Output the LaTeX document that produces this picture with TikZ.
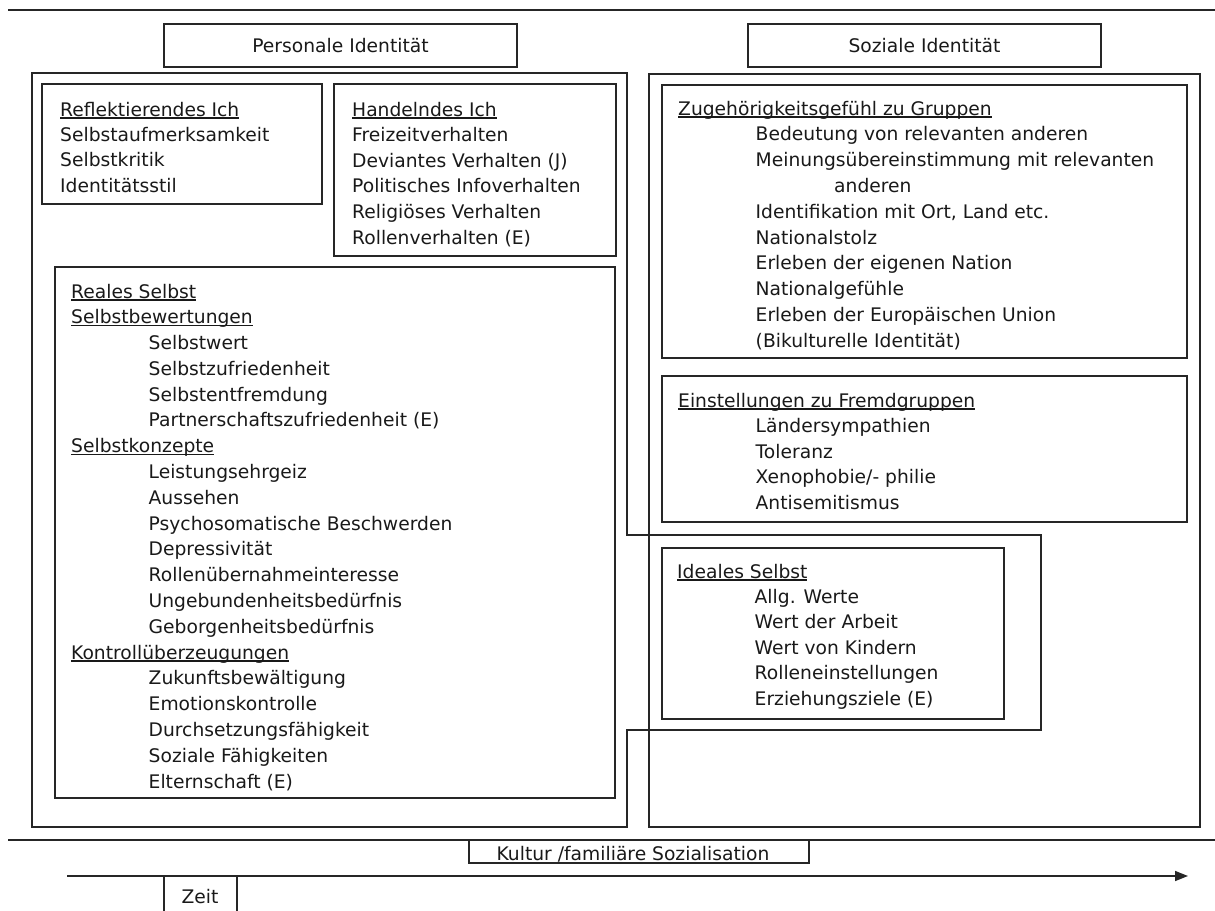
\documentclass[tikz,border=0pt]{standalone}
\usepackage{fontspec}
\setmainfont{DejaVu Sans}
\usetikzlibrary{arrows.meta}
\newcommand\ulx[1]{\setbox0\hbox{#1}\rlap{\rule[-2.6pt]{\wd0}{1.2pt}}\box0}
\newcommand\indA{\hspace*{77.5pt}}
\newcommand\indB{\hspace*{156pt}}
\begin{document}
\begin{tikzpicture}[x=1pt,y=-1pt,
  frame/.style={draw=black!85,line width=1.6pt},
  txt/.style={font=\fontsize{18.7}{22}\selectfont,inner sep=0pt,anchor=base west,text=black!90},
  headbox/.style={frame,font=\fontsize{18.7}{22}\selectfont,inner sep=0pt,minimum width=353pt,minimum height=43pt,text=black!90}]
\useasboundingbox (0,0) rectangle (1215,910);

% top line and header boxes
\draw[frame] (8,10) -- (1215,10);
\node[headbox] (pers) at (340.5,45.5) {Personale Identität};
\node[headbox] (soz) at (924.5,45.5) {Soziale Identität};

% outer frame of personal identity (with extension around Ideales Selbst)
\draw[frame] (32,73) -- (627,73) -- (627,535) -- (1041,535) -- (1041,730) -- (627,730) -- (627,827) -- (32,827) -- cycle;
% outer frame of social identity
\draw[frame] (649,74) rectangle (1200,827);

% inner boxes
\draw[frame] (42,84) rectangle (322,204);
\draw[frame] (334,84) rectangle (616,256);
\draw[frame] (55,267) rectangle (615,798);
\draw[frame] (662,85) rectangle (1187,358);
\draw[frame] (662,376) rectangle (1187,522);
\draw[frame] (662,548) rectangle (1004,719);

% texts
\foreach \t [count=\i from 0] in {{\ulx{Reflektierendes Ich}},Selbstaufmerksamkeit,Selbstkritik,Identitätsstil}
  \node[txt] (refl\i) at (60,{116+\i*25.4}) {\t};

\foreach \t [count=\i from 0] in {{\ulx{Handelndes Ich}},Freizeitverhalten,Deviantes Verhalten (J),Politisches Infoverhalten,Religiöses Verhalten,Rollenverhalten (E)}
  \node[txt] (hand\i) at (352,{116+\i*25.6}) {\t};

\foreach \t [count=\i from 0] in {{\ulx{Reales Selbst}},{\ulx{Selbstbewertungen}},{\indA Selbstwert},{\indA Selbstzufriedenheit},{\indA Selbstentfremdung},{\indA Partnerschaftszufriedenheit (E)},{\ulx{Selbstkonzepte}},{\indA Leistungsehrgeiz},{\indA Aussehen},{\indA Psychosomatische Beschwerden},{\indA Depressivität},{\indA Rollenübernahmeinteresse},{\indA Ungebundenheitsbedürfnis},{\indA Geborgenheitsbedürfnis},{\ulx{Kontrollüberzeugungen}},{\indA Zukunftsbewältigung},{\indA Emotionskontrolle},{\indA Durchsetzungsfähigkeit},{\indA Soziale Fähigkeiten},{\indA Elternschaft (E)}}
  \node[txt] (real\i) at (71,{298+\i*25.79}) {\t};

\foreach \t [count=\i from 0] in {{\ulx{Zugehörigkeitsgefühl zu Gruppen}},{\indA Bedeutung von relevanten anderen},{\indA Meinungsübereinstimmung mit relevanten},{\indB anderen},{\indA Identifikation mit Ort, Land etc.},{\indA Nationalstolz},{\indA Erleben der eigenen Nation},{\indA Nationalgefühle},{\indA Erleben der Europäischen Union},{\indA (Bikulturelle Identität)}}
  \node[txt] (zug\i) at (678,{115+\i*25.8}) {\t};

\foreach \t [count=\i from 0] in {{\ulx{Einstellungen zu Fremdgruppen}},{\indA Ländersympathien},{\indA Toleranz},{\indA Xenophobie/- philie},{\indA Antisemitismus}}
  \node[txt] (ein\i) at (678,{407+\i*25.5}) {\t};

\foreach \t [count=\i from 0] in {{\ulx{Ideales Selbst}},{\indA Allg. Werte},{\indA Wert der Arbeit},{\indA Wert von Kindern},{\indA Rolleneinstellungen},{\indA Erziehungsziele (E)}}
  \node[txt] (ide\i) at (677,{578+\i*25.4}) {\t};

% bottom: culture line, time arrow
\draw[frame] (8,840) -- (1215,840);
\draw[frame] (469,840) -- (469,863) -- (809,863) -- (809,840);
\node[txt,anchor=base] (kultur) at (633,860) {Kultur /familiäre Sozialisation};

\coordinate (arrS) at (67,876);
\coordinate (arrE) at (1188,876);
\draw[frame,-{Triangle[length=13pt,width=10pt]}] (arrS) -- (arrE);
\draw[frame] (164,876) -- (164,912);
\draw[frame] (237,876) -- (237,912);
\node[txt,anchor=base] (zeit) at (200,903) {Zeit};
\end{tikzpicture}
\end{document}
